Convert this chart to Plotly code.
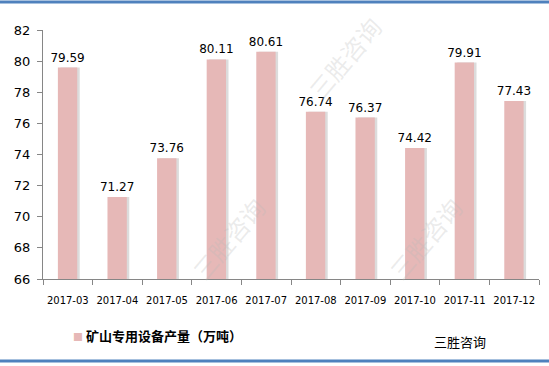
import plotly.graph_objects as go

months = ["2017-03", "2017-04", "2017-05", "2017-06", "2017-07",
          "2017-08", "2017-09", "2017-10", "2017-11", "2017-12"]
output = [79.59, 71.27, 73.76, 80.11, 80.61, 76.74, 76.37, 74.42, 79.91, 77.43]
y_ticks = [66, 68, 70, 72, 74, 76, 78, 80, 82]
series_name = "矿山专用设备产量（万吨）"
bar_color = "#E6B8B7"

W, H = 549, 366
L, R, T, B = 43, 10, 30, 87
pw, ph = W - L - R, H - T - B

def px(x):
    return (x - L) / pw

def py(y):
    return (H - B - y) / ph

fig = go.Figure()
# shadow
fig.add_trace(go.Bar(
    x=months, y=output, width=0.39, offset=-0.15,
    marker=dict(color="#DCDCDC", line=dict(width=0)),
    showlegend=False, hoverinfo="skip",
))
fig.add_trace(go.Bar(
    x=months, y=output, width=0.39, offset=-0.2,
    name=series_name, showlegend=False,
    marker=dict(color=bar_color, line=dict(width=0)),
    text=[f"{v:.2f}" for v in output], textposition="outside",
    constraintext="none",
    textfont=dict(family="DejaVu Sans", size=12, color="#000000"),
    cliponaxis=False,
))

annotations = [
    dict(text="三胜咨询", x=px(460), y=py(341), xref="paper", yref="paper",
         showarrow=False, font=dict(family="Noto Sans CJK SC", size=13, color="#000000"),
         xanchor="center", yanchor="middle"),
    dict(text=f"<span style='color:{bar_color};font-size:10px'>■</span> <b>{series_name}</b>",
         x=px(71), y=py(335), xref="paper", yref="paper", showarrow=False,
         font=dict(family="Noto Sans CJK SC", size=13, color="#000000"),
         xanchor="left", yanchor="middle"),
]
for (cx, cy) in [(345, 58), (228, 238), (425, 238)]:
    annotations.append(dict(
        text="三胜咨询", x=px(cx), y=py(cy), xref="paper", yref="paper",
        showarrow=False, textangle=-50,
        font=dict(family="Noto Sans CJK SC", size=24, color="rgba(185,185,185,0.28)"),
        xanchor="center", yanchor="middle"))

shapes = [
    dict(type="line", xref="paper", yref="paper", x0=px(0), x1=px(W),
         y0=py(2), y1=py(2), line=dict(color="#4F81BD", width=3)),
    dict(type="line", xref="paper", yref="paper", x0=px(0), x1=px(W),
         y0=py(361), y1=py(361), line=dict(color="#4F81BD", width=3)),
]

fig.update_layout(
    width=W, height=H,
    margin=dict(l=L, r=R, t=T, b=B),
    paper_bgcolor="white", plot_bgcolor="white",
    barmode="overlay",
    font=dict(family="DejaVu Sans", color="#000000"),
    xaxis=dict(
        type="category", showgrid=False, showline=True, linecolor="#868686",
        ticks="outside", tickson="boundaries", ticklen=5, tickcolor="#868686",
        tickangle=0, tickfont=dict(size=10, color="#000000"),
        ticklabelstandoff=12,
    ),
    yaxis=dict(
        range=[66, 82], tickvals=y_ticks, showgrid=False, showline=True,
        linecolor="#868686", ticks="outside", ticklen=5, tickcolor="#868686",
        tickfont=dict(size=13, color="#000000"), zeroline=False,
        ticklabelstandoff=4,
    ),
    showlegend=False,
    annotations=annotations,
    shapes=shapes,
)

fig.write_html("out.html")
